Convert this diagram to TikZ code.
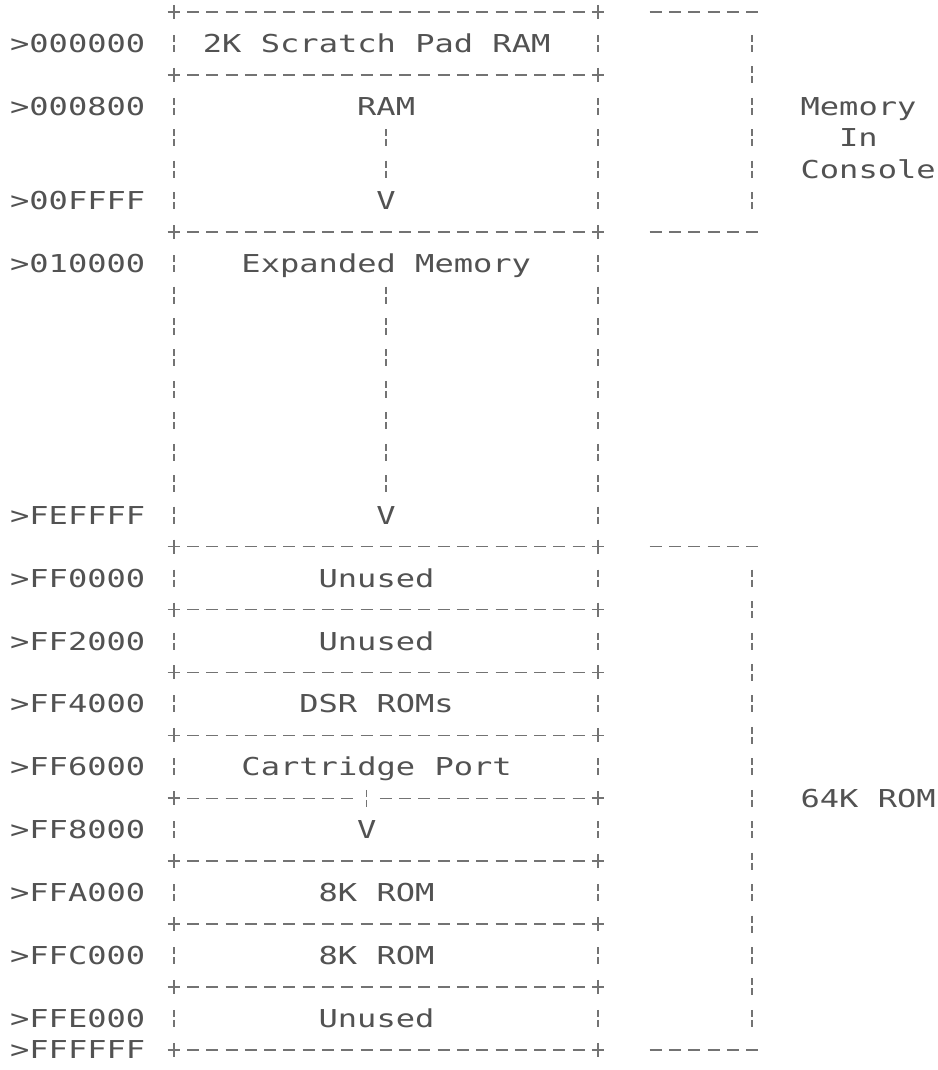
\documentclass[tikz,border=0pt]{standalone}
\usepackage{fontspec}
\usepackage{tikz}
\usetikzlibrary{positioning}
\newfontfamily\printfont[FakeStretch=1.3]{DejaVu Sans Mono}
\definecolor{ink}{gray}{0.32}
\definecolor{rulegray}{gray}{0.45}

% character grid of the printout (pixels)
\newcommand{\cx}[1]{(19.5+19.28*(#1))}
\newcommand{\ly}[1]{(12+31.45*(#1))}

\begin{document}
\begin{tikzpicture}[
    x=0.75pt, y=-0.75pt,
    chars/.style={font=\printfont\fontsize{18.5}{22}\selectfont, text=ink, inner sep=0pt, anchor=base west},
    dashstroke/.style={draw=rulegray, line width=1pt},
    barstroke/.style={draw=rulegray, line width=1.2pt},
    brokenbar/.style={barstroke, dash pattern=on 5.25pt off 2.25pt}
  ]
  \useasboundingbox (0,0) rectangle (938,1070);

  % addresses
  \foreach \r/\a in {1/000000, 3/000800, 6/00FFFF, 8/010000, 16/FEFFFF,
      18/FF0000, 20/FF2000, 22/FF4000, 24/FF6000, 26/FF8000,
      28/FFA000, 30/FFC000, 32/FFE000, 33/FFFFFF}
    \node[chars] (adr\a) at ({\cx{0}-9.64},{\ly{\r}+9}) {>\a};

  % borders +-----+
  \foreach \r in {0,2,7,17,19,21,23,27,29,31,33} {
    \foreach \c in {9,...,29}
      \draw[dashstroke] ({\cx{\c}-6},{\ly{\r}}) -- ++(12,0);
  }
  \foreach \c in {9,...,17,19,20,...,29}
    \draw[dashstroke] ({\cx{\c}-6},{\ly{25}}) -- ++(12,0);
  \foreach \r in {0,2,7,17,19,21,23,25,27,29,31,33}
    \foreach \c in {8,30} {
      \draw[barstroke] ({\cx{\c}-6},{\ly{\r}}) -- ++(12,0);
      \draw[barstroke] ({\cx{\c}},{\ly{\r}-7}) -- ++(0,14);
    }
  % short rules on the right
  \foreach \r in {0,7,17,33}
    \foreach \c in {33,...,38}
      \draw[dashstroke] ({\cx{\c}-6},{\ly{\r}}) -- ++(12,0);

  % side bars of the boxes
  \foreach \r in {1,3,4,5,6,8,9,...,16,18,20,22,24,26,28,30,32}
    \foreach \c in {8,30}
      \draw[brokenbar] ({\cx{\c}},{\ly{\r}-8.5}) -- ++(0,17);
  \foreach \r in {1,...,6,18,19,...,32}
    \draw[brokenbar] ({\cx{38}},{\ly{\r}-8.5}) -- ++(0,17);

  % growth arrows
  \foreach \r in {4,5,9,10,...,15}
    \draw[brokenbar] ({\cx{19}},{\ly{\r}-8.5}) -- ++(0,17);
  \draw[brokenbar] ({\cx{18}},{\ly{25}-8.5}) -- ++(0,17);
  \node[chars] (vram) at ({\cx{19}-9.64},{\ly{6}+9}) {V};
  \node[chars] (vexp) at ({\cx{19}-9.64},{\ly{16}+9}) {V};
  \node[chars] (vcart) at ({\cx{18}-9.64},{\ly{26}+9}) {V};

  % block names
  \foreach \r/\c/\t/\n in {1/10/2K Scratch Pad RAM/scratch, 3/18/RAM/ram,
      8/12/Expanded Memory/expmem, 18/16/Unused/unA, 20/16/Unused/unB,
      22/15/DSR ROMs/dsr, 24/12/Cartridge Port/cart, 28/16/8K ROM/romA,
      30/16/8K ROM/romB, 32/16/Unused/unC}
    \node[chars] (\n) at ({\cx{\c}-9.64},{\ly{\r}+9}) {\t};

  % right hand notes
  \node[chars] (mem) at ({\cx{41}-9.64},{\ly{3}+9}) {Memory};
  \node[chars] (in) at ({\cx{43}-9.64},{\ly{4}+9}) {In};
  \node[chars] (con) at ({\cx{41}-9.64},{\ly{5}+9}) {Console};
  \node[chars] (rom) at ({\cx{41}-9.64},{\ly{25}+9}) {64K ROM};
\end{tikzpicture}
\end{document}
